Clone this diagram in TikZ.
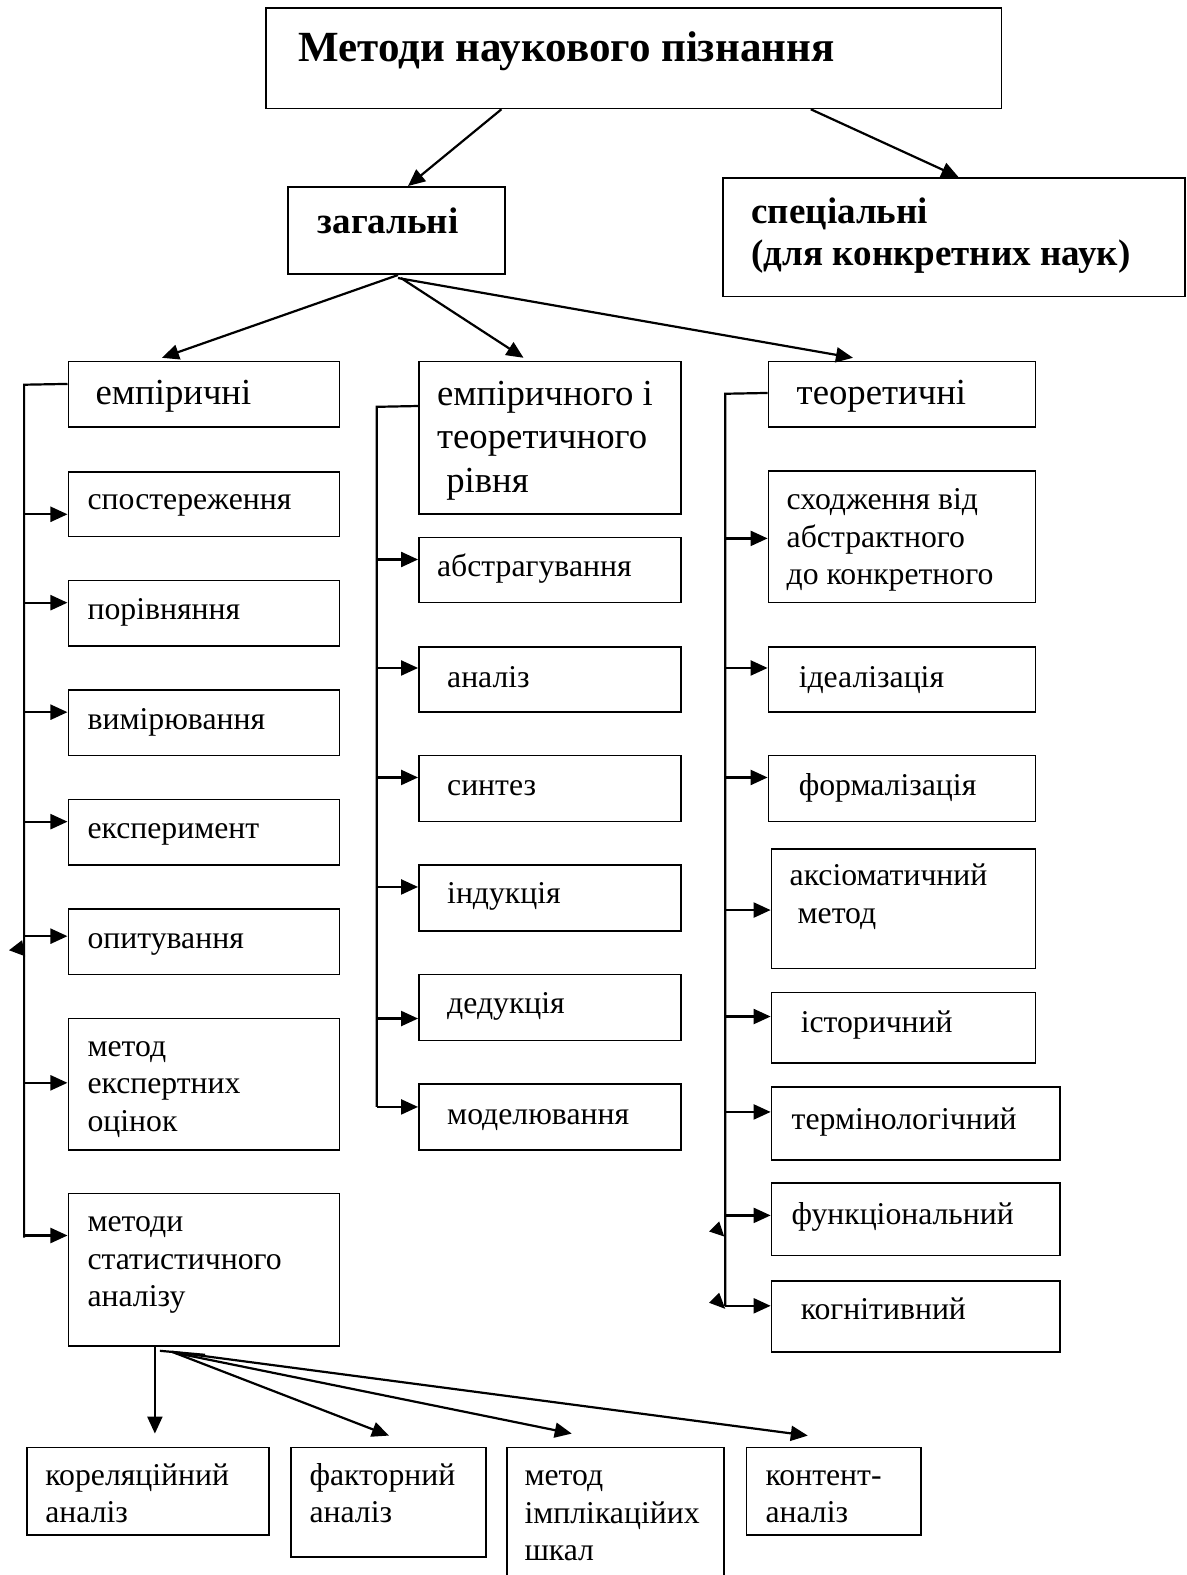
\documentclass[tikz,border=0pt]{standalone}
\usepackage{fontspec}
\setmainfont{Liberation Serif}
\usetikzlibrary{arrows.meta,fit,calc}
\newcommand\itemsz{\fontsize{31.7}{37.5}\selectfont}
\newcommand\headsz{\fontsize{36.7}{43.5}\selectfont}
\begin{document}
\begin{tikzpicture}[x=1.004pt,y=-1.004pt,
  box/.style={draw,line width=1.6pt,inner sep=0pt},
  lbl/.style={anchor=base west,inner sep=0pt,align=left,font=\itemsz},
  hlbl/.style={anchor=base west,inner sep=0pt,align=left,font=\headsz},
  blbl/.style={anchor=base west,inner sep=0pt,align=left,font=\bfseries\fontsize{37}{42}\selectfont},
  ln/.style={line width=2.2pt},
  arr/.style={line width=2.2pt,-{Triangle[length=17pt,width=15pt]}},
]
\useasboundingbox (0,0) rectangle (1181,1568);
% top level
\node[box,fit={(265,8) (997,108)}] (title) {};
\node[anchor=base west,inner sep=0pt,font=\bfseries\fontsize{43}{48}\selectfont] (titlet) at (297,61) {Методи наукового пізнання};
\node[box,fit={(287,186) (503,273)}] (zag) {};
\node[blbl] (zagt) at (316,232) {загальні};
\node[box,fit={(720,177) (1180,295)}] (spec) {};
\node[blbl] (spect) at (748,264) {спеціальні\\(для конкретних наук)};
\draw[arr] ($(title.south west)+(235,0)$) -- ($(zag.north west)+(120,0)$);
\draw[arr] ($(title.south west)+(543,0)$) -- ($(spec.north west)+(235,0)$);
% column heads
\node[box,fit={(68,360) (338,425)}] (emp) {};
\node[hlbl] (empt) at (95,403) {емпіричні};
\node[box,fit={(417,360) (678,512)}] (et) {};
\node[hlbl] (ett) at (435,490) {емпіричного і\\теоретичного\\\ рівня};
\node[box,fit={(765,360) (1031,425)}] (teo) {};
\node[hlbl] (teot) at (793,403) {теоретичні};
\draw[arr] ($(zag.south west)+(110,0)$) -- ($(emp.north west)+(94,-3)$);
\draw[arr] ($(zag.south west)+(113,3)$) -- ($(et.north west)+(105,-3)$);
\draw[arr] ($(zag.south west)+(110,3)$) -- ($(teo.north west)+(85,-3)$);
% column 1
\node[box,fit={(68,470) (338,534)}] (a1) {};
\node[lbl] (a1t) at (87,507) {спостереження};
\node[box,fit={(68,578) (338,643)}] (a2) {};
\node[lbl] (a2t) at (87,617) {порівняння};
\node[box,fit={(68,687) (338,752)}] (a3) {};
\node[lbl] (a3t) at (87,726) {вимірювання};
\node[box,fit={(68,796) (338,861)}] (a4) {};
\node[lbl] (a4t) at (87,835) {експеримент};
\node[box,fit={(68,905) (338,970)}] (a5) {};
\node[lbl] (a5t) at (87,944) {опитування};
\node[box,fit={(68,1014) (338,1145)}] (a6) {};
\node[lbl] (a6t) at (87,1126) {метод\\експертних\\оцінок};
\node[box,fit={(68,1188) (338,1340)}] (a7) {};
\node[lbl] (a7t) at (87,1301) {методи\\статистичного\\аналізу};
\coordinate (s1t) at (24,383);
\coordinate (s1b) at (24,1232);
\draw[ln] ($(emp.north west)+(0,23)$) -- (s1t) -- (s1b);
\draw[arr] (s1t |- 0,512) -- (a1.west |- 0,512);
\draw[arr] (s1t |- 0,600) -- (a2.west |- 0,600);
\draw[arr] (s1t |- 0,709) -- (a3.west |- 0,709);
\draw[arr] (s1t |- 0,818) -- (a4.west |- 0,818);
\draw[arr] (s1t |- 0,932) -- (a5.west |- 0,932);
\draw[arr] (s1t |- 0,1078) -- (a6.west |- 0,1078);
\draw[arr] (s1t |- 0,1230) -- (a7.west |- 0,1230);
\fill (9,946) -- (22,936) -- (25,952) -- cycle;
% column 2
\node[box,fit={(417,535) (678,600)}] (b1) {};
\node[lbl] (b1t) at (435,574) {абстрагування};
\node[box,fit={(417,644) (678,709)}] (b2) {};
\node[lbl] (b2t) at (445,684) {аналіз};
\node[box,fit={(417,752) (678,818)}] (b3) {};
\node[lbl] (b3t) at (445,792) {синтез};
\node[box,fit={(417,861) (678,927)}] (b4) {};
\node[lbl] (b4t) at (445,899) {індукція};
\node[box,fit={(417,970) (678,1036)}] (b5) {};
\node[lbl] (b5t) at (445,1009) {дедукція};
\node[box,fit={(417,1079) (678,1145)}] (b6) {};
\node[lbl] (b6t) at (445,1119) {моделювання};
\coordinate (s2t) at (375,405);
\coordinate (s2b) at (375,1102);
\draw[ln] ($(et.north west)+(0,45)$) -- (s2t) -- (s2b);
\draw[arr] (s2t |- 0,557) -- (b1.west |- 0,557);
\draw[arr] (s2t |- 0,665) -- (b2.west |- 0,665);
\draw[arr] (s2t |- 0,774) -- (b3.west |- 0,774);
\draw[arr] (s2t |- 0,883) -- (b4.west |- 0,883);
\draw[arr] (s2t |- 0,1014) -- (b5.west |- 0,1014);
\draw[arr] (s2t |- 0,1102) -- (b6.west |- 0,1102);
% column 3
\node[box,fit={(765,469) (1031,600)}] (c1) {};
\node[lbl] (c1t) at (783,582) {сходження від\\абстрактного\\до конкретного};
\node[box,fit={(765,644) (1031,709)}] (c2) {};
\node[lbl] (c2t) at (795,684) {ідеалізація};
\node[box,fit={(765,752) (1031,818)}] (c3) {};
\node[lbl] (c3t) at (795,792) {формалізація};
\node[box,fit={(768,845) (1031,964)}] (c4) {};
\node[lbl] (c4t) at (786,919) {аксіоматичний\\\ метод};
\node[box,fit={(768,988) (1031,1058)}] (c5) {};
\node[lbl] (c5t) at (797,1028) {історичний};
\node[box,fit={(768,1082) (1055,1155)}] (c6) {};
\node[lbl] (c6t) at (788,1124) {термінологічний};
\node[box,fit={(768,1178) (1055,1250)}] (c7) {};
\node[lbl] (c7t) at (788,1219) {функціональний};
\node[box,fit={(768,1275) (1055,1346)}] (c8) {};
\node[lbl] (c8t) at (797,1314) {когнітивний};
\coordinate (s3t) at (722,392);
\coordinate (s3b) at (722,1300);
\draw[ln] ($(teo.north west)+(0,32)$) -- (s3t) -- (s3b);
\draw[arr] (s3t |- 0,536) -- (c1.west |- 0,536);
\draw[arr] (s3t |- 0,665) -- (c2.west |- 0,665);
\draw[arr] (s3t |- 0,774) -- (c3.west |- 0,774);
\draw[arr] (s3t |- 0,906) -- (c4.west |- 0,906);
\draw[arr] (s3t |- 0,1012) -- (c5.west |- 0,1012);
\draw[arr] (s3t |- 0,1107) -- (c6.west |- 0,1107);
\draw[arr] (s3t |- 0,1210) -- (c7.west |- 0,1210);
\draw[arr] (s3t |- 0,1300) -- (c8.west |- 0,1300);
\fill (706,1226) -- (716,1216) -- (721,1231) -- cycle;
\fill (706,1297) -- (716,1287) -- (722,1303) -- cycle;
% bottom row
\node[box,fit={(27,1441) (268,1528)}] (d1) {};
\node[lbl] (d1t) at (45,1516) {кореляційний\\аналіз};
\node[box,fit={(290,1441) (484,1550)}] (d2) {};
\node[lbl] (d2t) at (308,1516) {факторний\\аналіз};
\node[box,fit={(505,1441) (721,1580)}] (d3) {};
\node[lbl] (d3t) at (522,1554) {метод\\імплікаційих\\шкал};
\node[box,fit={(743,1441) (917,1528)}] (d4) {};
\node[lbl] (d4t) at (762,1516) {контент-\\аналіз};
\draw[arr] ($(a7.south west)+(87,0)$) -- ($(d1.north west)+(128,-13)$);
\draw[ln] ($(a7.south west)+(92,4)$) -- ($(a7.south west)+(137,8)$);
\draw[arr] ($(a7.south west)+(104,5)$) -- ($(d2.north west)+(98,-11)$);
\draw[arr] ($(a7.south west)+(107,6)$) -- ($(d3.north west)+(65,-13)$);
\draw[arr] ($(a7.south west)+(104,5)$) -- ($(d4.north west)+(62,-11)$);
\end{tikzpicture}
\end{document}
